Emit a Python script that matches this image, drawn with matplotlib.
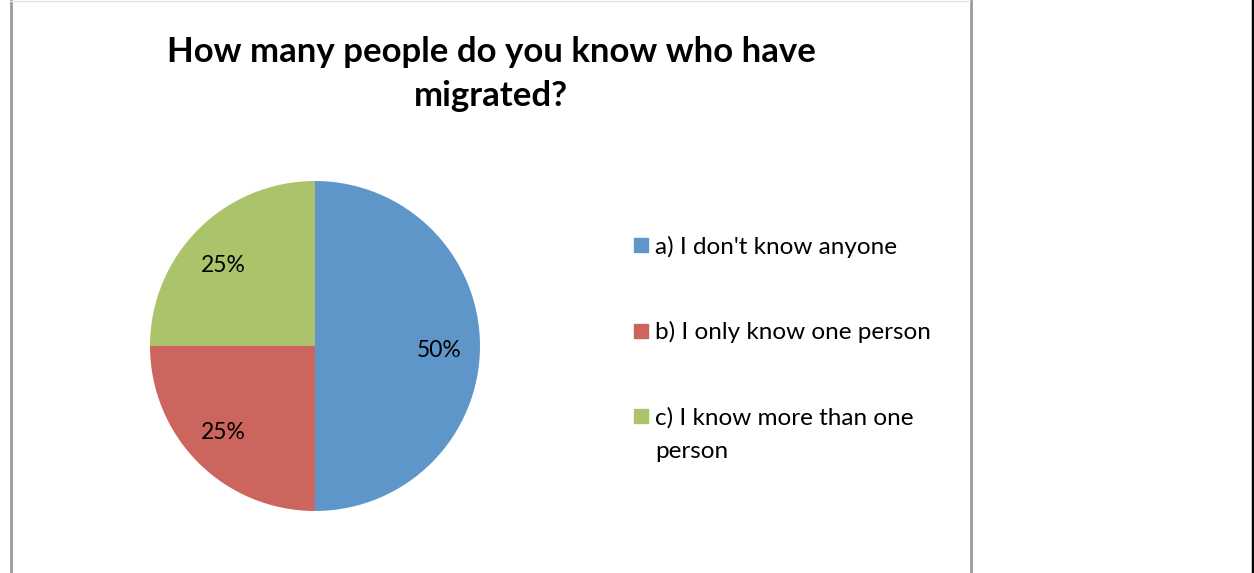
import matplotlib
matplotlib.use("Agg")
import matplotlib.pyplot as plt
from matplotlib.lines import Line2D
from matplotlib.patches import Rectangle

plt.rcParams['font.family'] = ['Lato', 'DejaVu Sans']

title = "How many people do you know who have\nmigrated?"
categories = ["a) I don't know anyone", "b) I only know one person", "c) I know more than one\nperson"]
values = [50, 25, 25]
labels = ["50%", "25%", "25%"]
colors = ["#5f96ca", "#cc655e", "#abc46b"]

W, H = 1254, 573
fig = plt.figure(figsize=(W / 100, H / 100), dpi=100)
fig.patch.set_facecolor("white")

def fx(px):
    return px / W

def fy(py):
    return 1 - py / H

# frame lines
fig.add_artist(Line2D([fx(10.5), fx(10.5)], [0, 1], color="#9a9a9a", lw=2))
fig.add_artist(Line2D([fx(970.5), fx(970.5)], [0, 1], color="#9a9a9a", lw=2))
fig.add_artist(Line2D([fx(10), fx(970)], [fy(0.5), fy(0.5)], color="#e4e4e4", lw=1))
fig.add_artist(Line2D([fx(1252.5), fx(1252.5)], [0, 1], color="black", lw=2.5))

# pie
cx, cy, r = 315, 346, 165
ax = fig.add_axes([fx(cx - r), fy(cy + r), 2 * r / W, 2 * r / H])
wedges, texts = ax.pie(values, colors=colors, startangle=90, counterclock=False,
                       radius=1, labels=None, wedgeprops=dict(linewidth=0))
ax.set_xlim(-1, 1)
ax.set_ylim(-1, 1)
ax.set_aspect("auto")
ax.axis("off")
label_pos = [(0.755, -0.025), (-0.555, 0.49), (-0.555, -0.525)]
for (lx, ly), t in zip(label_pos, labels):
    ax.text(lx, ly, t, ha="center", va="center", fontsize=16.5, color="black")

# title
fig.text(fx(491), fy(74), title, ha="center", va="center", fontsize=25,
         fontweight="bold", linespacing=1.48)

# legend
sq_y = [245, 330.5, 416]
txt_y = [247, 332, 434.5]
for c, lab, sy, ty in zip(colors, categories, sq_y, txt_y):
    fig.add_artist(Rectangle((fx(634), fy(sy + 7)), 14 / W, 14 / H, color=c,
                             transform=fig.transFigure))
    fig.text(fx(655), fy(ty), lab, ha="left", va="center",
             fontsize=17.5, linespacing=1.75)

fig.savefig("out.png", dpi=100)
